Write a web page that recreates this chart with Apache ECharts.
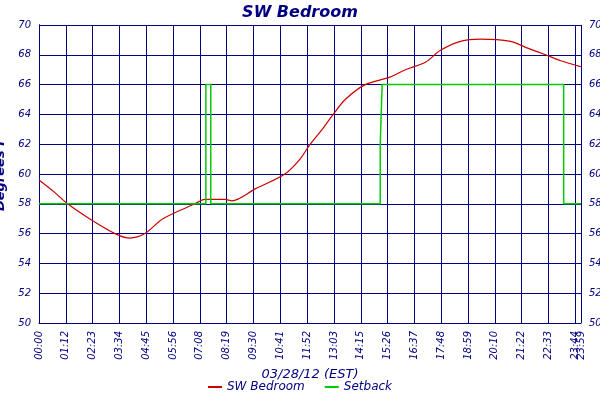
<!DOCTYPE html>
<html>
<head>
<meta charset="utf-8">
<script src="https://cdn.jsdelivr.net/npm/echarts@6/dist/echarts.min.js"></script>
<style>html,body{margin:0;padding:0;background:#fff}</style>
</head>
<body>
<div id="chart-panel" style="width:600px;height:400px"></div>
<script>
// minutes after midnight vs degrees F
const tempMinutes = [0, 40, 76, 134, 202, 241, 281, 329, 414, 440, 494, 512, 574, 653, 693, 720, 752, 781, 813, 866, 932, 973, 1026, 1066, 1119, 1172, 1252, 1292, 1345, 1385, 1425, 1439];
const tempValues  = [59.6, 58.8, 58.0, 57.0, 56.0, 55.7, 56.0, 57.0, 58.0, 58.3, 58.3, 58.2, 59.0, 60.0, 61.0, 62.0, 63.0, 64.0, 65.0, 66.0, 66.5, 67.0, 67.5, 68.3, 68.9, 69.05, 68.9, 68.5, 68.0, 67.6, 67.3, 67.2];
const setbackMinutes = [0, 443, 443, 456, 456, 906, 906, 911, 1393, 1393, 1439];
const setbackValues  = [58, 58, 66, 66, 58, 58, 62, 66, 66, 58, 58];
const tickLabels = ['00:00','01:12','02:23','03:34','04:45','05:56','07:08','08:19','09:30','10:41','11:52','13:03','14:15','15:26','16:37','17:48','18:59','20:10','21:22','22:33','23:44'];

const navy = '#000080';
const zip = (xs, ys) => xs.map((x, i) => [x, ys[i]]);
const labelFont = { color: navy, fontStyle: 'italic', fontSize: 10, fontFamily: 'DejaVu Sans' };
const yAxisBase = {
  type: 'value', min: 50, max: 70, interval: 2,
  axisLine: { show: true, lineStyle: { color: navy } },
  axisTick: { show: false },
  axisLabel: labelFont,
  splitLine: { lineStyle: { color: navy, width: 1 } }
};

var myChart = echarts.init(document.getElementById('chart-panel'));
myChart.setOption({
  animation: false,
  title: {
    text: 'SW Bedroom', left: 'center', top: 0,
    textStyle: { color: navy, fontStyle: 'italic', fontWeight: 'bold', fontSize: 16, fontFamily: 'DejaVu Sans' }
  },
  grid: { left: 39, right: 19, top: 25, bottom: 77, containLabel: false, outerBoundsMode: 'none' },
  xAxis: [
    {
      type: 'value', min: 0, max: 1439, interval: 71.2,
      name: '03/28/12 (EST)', nameLocation: 'middle', nameGap: 42,
      nameTextStyle: { color: navy, fontStyle: 'italic', fontSize: 13, fontFamily: 'DejaVu Sans' },
      axisLine: { show: true, lineStyle: { color: navy } },
      axisTick: { show: false },
      axisLabel: Object.assign({}, labelFont, {
        rotate: 90, showMaxLabel: true, hideOverlap: false,
        formatter: v => v >= 1439 ? '23:59' : (Math.round(v / 71.2) < 20 ? tickLabels[Math.round(v / 71.2)] : '')
      }),
      splitLine: { show: true, lineStyle: { color: navy, width: 1 } }
    },
    {
      type: 'value', min: 0, max: 1439, interval: 1424, position: 'bottom',
      axisLine: { show: false }, axisTick: { show: false }, splitLine: { show: true, lineStyle: { color: navy } },
      axisLabel: Object.assign({}, labelFont, {
        rotate: 90, showMaxLabel: false, showMinLabel: false,
        formatter: v => v === 1424 ? tickLabels[20] : ''
      })
    }
  ],
  yAxis: [
    Object.assign({}, yAxisBase, {
      name: 'Degrees F', nameLocation: 'middle', nameGap: 26,
      nameTextStyle: { color: navy, fontStyle: 'italic', fontWeight: 'bold', fontSize: 13, fontFamily: 'DejaVu Sans' }
    }),
    Object.assign({}, yAxisBase, { position: 'right', splitLine: { show: false } })
  ],
  legend: {
    bottom: 2, itemWidth: 14, itemHeight: 2, itemGap: 20,
    textStyle: { color: navy, fontStyle: 'italic', fontSize: 12, fontFamily: 'DejaVu Sans' },
    data: [{ name: 'SW Bedroom', icon: 'rect' }, { name: 'Setback', icon: 'rect' }]
  },
  series: [
    {
      name: 'SW Bedroom', type: 'line', data: zip(tempMinutes, tempValues),
      smooth: 0.3, showSymbol: false, color: '#cc0000', lineStyle: { width: 1.2 }
    },
    {
      name: 'Setback', type: 'line', data: zip(setbackMinutes, setbackValues),
      showSymbol: false, color: '#00cc00', lineStyle: { width: 1.5 }
    }
  ]
});
</script>
</body>
</html>
